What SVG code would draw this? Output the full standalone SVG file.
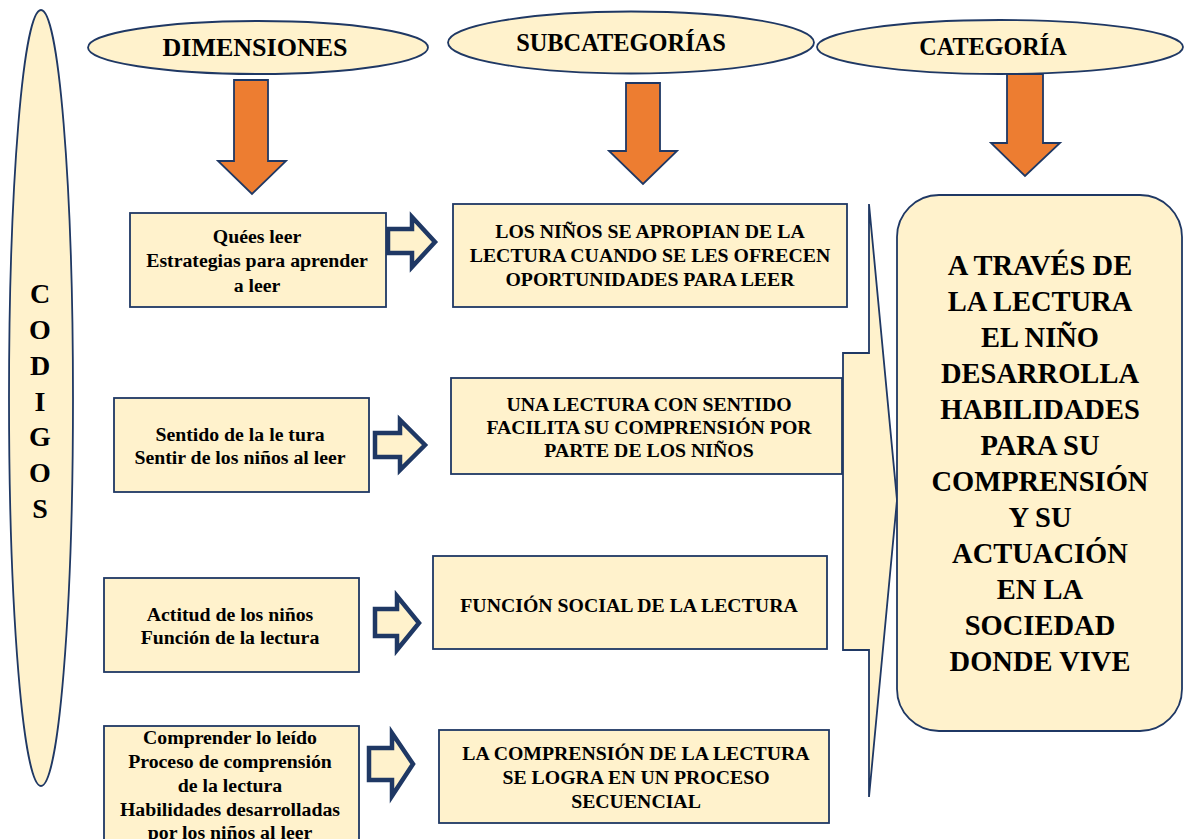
<svg xmlns="http://www.w3.org/2000/svg" width="1185" height="839" viewBox="0 0 1185 839">
<style>
.sh{fill:#FFF2CC;stroke:#1F3864;stroke-width:1.8}
.t{font-family:"Liberation Serif","Times New Roman",serif;font-weight:bold;fill:#000;text-anchor:middle}
.s20{font-size:19.8px}
.s18{font-size:19.8px}
.oa{fill:#ED7D31;stroke:#1F3864;stroke-width:1.8;stroke-linejoin:miter}
.ba{fill:#FFF2CC;stroke:#1F3864;stroke-width:4.5;stroke-linejoin:miter}
</style>
<rect width="1185" height="839" fill="#fff"/>

<g id="codigos">
<ellipse class="sh" cx="41" cy="398" rx="32" ry="388"/>
<text class="t" x="40" font-size="28"><tspan x="40" y="303">C</tspan><tspan x="40" y="339">O</tspan><tspan x="40" y="375">D</tspan><tspan x="40" y="411">I</tspan><tspan x="40" y="446">G</tspan><tspan x="40" y="482">O</tspan><tspan x="40" y="518">S</tspan></text>
</g>

<g id="dimensiones">
<ellipse class="sh" cx="258" cy="47.5" rx="170" ry="26.5"/>
<text class="t" x="255" y="56" font-size="26">DIMENSIONES</text>
</g>
<g id="subcategorias">
<ellipse class="sh" cx="631" cy="42.5" rx="183" ry="31"/>
<text class="t" x="621" y="51" font-size="24.4">SUBCATEGORÍAS</text>
</g>
<g id="categoria">
<ellipse class="sh" cx="1000" cy="47" rx="183" ry="27"/>
<text class="t" x="993" y="55" font-size="24.2">CATEGORÍA</text>
</g>

<g id="connectors">
<polygon class="oa" points="234,80 268,80 268,161 286,161 252,194 218,161 234,161"/>
<polygon class="oa" points="626,83 660,83 660,151 677,151 643,184 609,151 626,151"/>
<polygon class="oa" points="1007,74 1043,74 1043,143 1060,143 1025,176 991,143 1007,143"/>
<polygon class="ba" points="388,229 412,229 412,217 435,242 412,267 412,253 388,253"/>
<polygon class="ba" points="375,433 400,433 400,420 425,445 400,470 400,457 375,457"/>
<polygon class="ba" points="375,609 397,609 397,596 419,623 397,650 397,636 375,636"/>
<polygon class="ba" points="369,748 392,748 392,733 413,764 392,796 392,780 369,780"/>
<polygon class="sh" points="869,204 897,500 869,797 869,650 843,650 843,353 869,353"/>
</g>

<g id="dim1">
<rect class="sh" x="130" y="213" width="256" height="94"/>
<text class="t s20" x="257"><tspan x="257" y="243">Quées leer</tspan><tspan x="257" y="267">Estrategias para aprender</tspan><tspan x="257" y="292">a leer</tspan></text>
</g>
<g id="dim2">
<rect class="sh" x="114" y="398" width="255" height="94"/>
<text class="t s20" x="240"><tspan x="240" y="441">Sentido de la le tura</tspan><tspan x="240" y="464">Sentir de los niños al leer</tspan></text>
</g>
<g id="dim3">
<rect class="sh" x="104" y="578" width="255" height="94"/>
<text class="t s20" x="230"><tspan x="230" y="621">Actitud de los niños</tspan><tspan x="230" y="644">Función de la lectura</tspan></text>
</g>
<g id="dim4">
<rect class="sh" x="104" y="726" width="255" height="130"/>
<text class="t s20" x="230"><tspan x="230" y="744">Comprender lo leído</tspan><tspan x="230" y="768">Proceso de comprensión</tspan><tspan x="230" y="792">de la lectura</tspan><tspan x="230" y="816">Habilidades desarrolladas</tspan><tspan x="230" y="839">por los niños al leer</tspan></text>
</g>

<g id="sub1">
<rect class="sh" x="453" y="204" width="394" height="103"/>
<text class="t s18" x="650"><tspan x="650" y="238">LOS NIÑOS SE APROPIAN DE LA</tspan><tspan x="650" y="262">LECTURA CUANDO SE LES OFRECEN</tspan><tspan x="650" y="286">OPORTUNIDADES  PARA LEER</tspan></text>
</g>
<g id="sub2">
<rect class="sh" x="451" y="378" width="391" height="96"/>
<text class="t s18" x="649"><tspan x="649" y="411">UNA LECTURA CON SENTIDO</tspan><tspan x="649" y="434">FACILITA SU COMPRENSIÓN POR</tspan><tspan x="649" y="457">PARTE DE LOS NIÑOS</tspan></text>
</g>
<g id="sub3">
<rect class="sh" x="433" y="556" width="394" height="93"/>
<text class="t s18" x="629" y="612">FUNCIÓN SOCIAL DE LA LECTURA</text>
</g>
<g id="sub4">
<rect class="sh" x="439" y="730" width="390" height="93"/>
<text class="t s18" x="636"><tspan x="636" y="760">LA COMPRENSIÓN DE LA LECTURA</tspan><tspan x="636" y="784">SE LOGRA EN UN PROCESO</tspan><tspan x="636" y="808">SECUENCIAL</tspan></text>
</g>

<g id="cat">
<rect class="sh" x="897" y="195" width="285" height="536" rx="42" ry="42"/>
<text class="t" x="1040" font-size="28.5"><tspan x="1040" y="275">A TRAVÉS DE</tspan><tspan x="1040" y="311">LA LECTURA</tspan><tspan x="1040" y="347">EL NIÑO</tspan><tspan x="1040" y="383">DESARROLLA</tspan><tspan x="1040" y="419">HABILIDADES</tspan><tspan x="1040" y="455">PARA SU</tspan><tspan x="1040" y="491">COMPRENSIÓN</tspan><tspan x="1040" y="527">Y SU</tspan><tspan x="1040" y="563">ACTUACIÓN</tspan><tspan x="1040" y="599">EN LA</tspan><tspan x="1040" y="635">SOCIEDAD</tspan><tspan x="1040" y="671">DONDE VIVE</tspan></text>
</g>
</svg>
